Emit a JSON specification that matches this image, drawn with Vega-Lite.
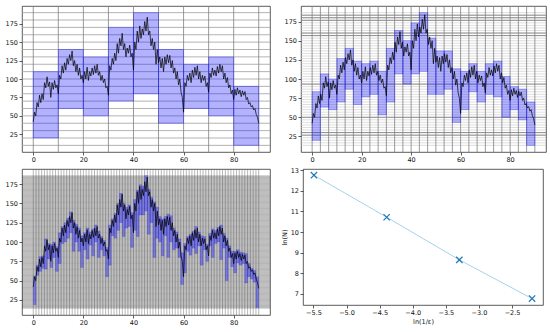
{
"$schema": "https://vega.github.io/schema/vega-lite/v6.json",
"padding": {"left": 4, "top": 5, "right": 0, "bottom": 0},
"background": "white",
"spacing": 2,
"config": {
  "view": {"stroke": "#333", "strokeWidth": 0.8},
  "axis": {"grid": false, "domain": false, "tickSize": 3, "tickColor": "#333", "tickWidth": 0.8, "labelFontSize": 6.5, "labelColor": "#111", "labelPadding": 1.5, "labelFont": "DejaVu Sans", "titleFont": "DejaVu Sans", "titleFontSize": 6.5, "titleFontWeight": "normal", "titleColor": "#111", "labelOverlap": false}
},
"datasets": {
  "curve": [{"x":0,"y":42},{"x":0.5,"y":55},{"x":1,"y":50},{"x":1.5,"y":68},{"x":2,"y":62},{"x":2.5,"y":78},{"x":3,"y":68},{"x":3.5,"y":80},{"x":4,"y":72},{"x":4.5,"y":95},{"x":5,"y":88},{"x":5.5,"y":103},{"x":6,"y":90},{"x":6.5,"y":96},{"x":7,"y":75},{"x":7.5,"y":95},{"x":8,"y":86},{"x":8.5,"y":98},{"x":9,"y":88},{"x":9.5,"y":92},{"x":10,"y":80},{"x":10.5,"y":105},{"x":11,"y":100},{"x":11.5,"y":118},{"x":12,"y":108},{"x":12.5,"y":122},{"x":13,"y":112},{"x":13.5,"y":128},{"x":14,"y":120},{"x":14.5,"y":133},{"x":15,"y":125},{"x":15.5,"y":138},{"x":16,"y":118},{"x":16.5,"y":125},{"x":17,"y":110},{"x":17.5,"y":120},{"x":18,"y":105},{"x":18.5,"y":115},{"x":19,"y":100},{"x":19.5,"y":105},{"x":20,"y":95},{"x":20.5,"y":110},{"x":21,"y":100},{"x":21.5,"y":116},{"x":22,"y":98},{"x":22.5,"y":110},{"x":23,"y":104},{"x":23.5,"y":115},{"x":24,"y":106},{"x":24.5,"y":118},{"x":25,"y":108},{"x":25.5,"y":120},{"x":26,"y":105},{"x":26.5,"y":110},{"x":27,"y":98},{"x":27.5,"y":105},{"x":28,"y":95},{"x":28.5,"y":100},{"x":29,"y":88},{"x":29.5,"y":90},{"x":30,"y":78},{"x":30.5,"y":118},{"x":31,"y":112},{"x":31.5,"y":128},{"x":32,"y":120},{"x":32.5,"y":135},{"x":33,"y":125},{"x":33.5,"y":148},{"x":34,"y":135},{"x":34.5,"y":155},{"x":35,"y":145},{"x":35.5,"y":162},{"x":36,"y":140},{"x":36.5,"y":148},{"x":37,"y":130},{"x":37.5,"y":142},{"x":38,"y":135},{"x":38.5,"y":146},{"x":39,"y":130},{"x":39.5,"y":135},{"x":40,"y":112},{"x":40.5,"y":150},{"x":41,"y":140},{"x":41.5,"y":165},{"x":42,"y":150},{"x":42.5,"y":172},{"x":43,"y":155},{"x":43.5,"y":168},{"x":44,"y":160},{"x":44.5,"y":178},{"x":45,"y":165},{"x":45.5,"y":184},{"x":46,"y":160},{"x":46.5,"y":165},{"x":47,"y":145},{"x":47.5,"y":155},{"x":48,"y":140},{"x":48.5,"y":150},{"x":49,"y":120},{"x":49.5,"y":140},{"x":50,"y":122},{"x":50.5,"y":130},{"x":51,"y":115},{"x":51.5,"y":128},{"x":52,"y":110},{"x":52.5,"y":130},{"x":53,"y":120},{"x":53.5,"y":133},{"x":54,"y":122},{"x":54.5,"y":132},{"x":55,"y":115},{"x":55.5,"y":125},{"x":56,"y":108},{"x":56.5,"y":115},{"x":57,"y":100},{"x":57.5,"y":110},{"x":58,"y":92},{"x":58.5,"y":100},{"x":59,"y":82},{"x":59.5,"y":75},{"x":60,"y":55},{"x":60.5,"y":95},{"x":61,"y":90},{"x":61.5,"y":105},{"x":62,"y":98},{"x":62.5,"y":108},{"x":63,"y":95},{"x":63.5,"y":112},{"x":64,"y":102},{"x":64.5,"y":116},{"x":65,"y":105},{"x":65.5,"y":118},{"x":66,"y":100},{"x":66.5,"y":110},{"x":67,"y":95},{"x":67.5,"y":105},{"x":68,"y":98},{"x":68.5,"y":104},{"x":69,"y":90},{"x":69.5,"y":95},{"x":70,"y":82},{"x":70.5,"y":108},{"x":71,"y":102},{"x":71.5,"y":115},{"x":72,"y":105},{"x":72.5,"y":112},{"x":73,"y":104},{"x":73.5,"y":117},{"x":74,"y":108},{"x":74.5,"y":120},{"x":75,"y":110},{"x":75.5,"y":118},{"x":76,"y":100},{"x":76.5,"y":108},{"x":77,"y":95},{"x":77.5,"y":102},{"x":78,"y":88},{"x":78.5,"y":92},{"x":79,"y":80},{"x":79.5,"y":85},{"x":80,"y":72},{"x":80.5,"y":86},{"x":81,"y":78},{"x":81.5,"y":88},{"x":82,"y":80},{"x":82.5,"y":85},{"x":83,"y":76},{"x":83.5,"y":84},{"x":84,"y":78},{"x":84.5,"y":83},{"x":85,"y":72},{"x":85.5,"y":75},{"x":86,"y":66},{"x":86.5,"y":68},{"x":87,"y":62},{"x":87.5,"y":64},{"x":88,"y":58},{"x":88.5,"y":60},{"x":89,"y":52},{"x":89.5,"y":48},{"x":90,"y":40}],
  "boxes1": [{"x1":0,"x2":10,"y1":20,"y2":110},{"x1":10,"x2":20,"y1":60,"y2":140},{"x1":20,"x2":30,"y1":50,"y2":130},{"x1":30,"x2":40,"y1":70,"y2":170},{"x1":40,"x2":50,"y1":80,"y2":190},{"x1":50,"x2":60,"y1":40,"y2":140},{"x1":60,"x2":70,"y1":60,"y2":120},{"x1":70,"x2":80,"y1":50,"y2":130},{"x1":80,"x2":90,"y1":10,"y2":90}],
  "boxes2": [{"x1":0,"x2":3.333,"y1":20,"y2":83.333},{"x1":3.333,"x2":6.667,"y1":63.333,"y2":106.667},{"x1":6.667,"x2":10,"y1":60,"y2":100},{"x1":10,"x2":13.333,"y1":70,"y2":126.667},{"x1":13.333,"x2":16.667,"y1":86.667,"y2":140},{"x1":16.667,"x2":20,"y1":66.667,"y2":123.333},{"x1":20,"x2":23.333,"y1":76.667,"y2":120},{"x1":23.333,"x2":26.667,"y1":80,"y2":123.333},{"x1":26.667,"x2":30,"y1":53.333,"y2":110},{"x1":30,"x2":33.333,"y1":70,"y2":140},{"x1":33.333,"x2":36.667,"y1":106.667,"y2":163.333},{"x1":36.667,"x2":40,"y1":93.333,"y2":150},{"x1":40,"x2":43.333,"y1":106.667,"y2":173.333},{"x1":43.333,"x2":46.667,"y1":110,"y2":186.667},{"x1":46.667,"x2":50,"y1":80,"y2":153.333},{"x1":50,"x2":53.333,"y1":80,"y2":136.667},{"x1":53.333,"x2":56.667,"y1":86.667,"y2":136.667},{"x1":56.667,"x2":60,"y1":43.333,"y2":113.333},{"x1":60,"x2":63.333,"y1":60,"y2":110},{"x1":63.333,"x2":66.667,"y1":83.333,"y2":120},{"x1":66.667,"x2":70,"y1":70,"y2":110},{"x1":70,"x2":73.333,"y1":80,"y2":120},{"x1":73.333,"x2":76.667,"y1":76.667,"y2":123.333},{"x1":76.667,"x2":80,"y1":50,"y2":103.333},{"x1":80,"x2":83.333,"y1":60,"y2":90},{"x1":83.333,"x2":86.667,"y1":46.667,"y2":86.667},{"x1":86.667,"x2":90,"y1":13.333,"y2":70}],
  "boxes3": [{"x1":0,"x2":1.111,"y1":19,"y2":56},{"x1":1.111,"x2":2.222,"y1":57,"y2":70},{"x1":2.222,"x2":3.333,"y1":62,"y2":81},{"x1":3.333,"x2":4.444,"y1":66,"y2":82},{"x1":4.444,"x2":5.556,"y1":65,"y2":104},{"x1":5.556,"x2":6.667,"y1":78,"y2":98},{"x1":6.667,"x2":7.778,"y1":67,"y2":97},{"x1":7.778,"x2":8.889,"y1":80,"y2":100},{"x1":8.889,"x2":10,"y1":62,"y2":94},{"x1":10,"x2":11.111,"y1":72,"y2":112},{"x1":11.111,"x2":12.222,"y1":98,"y2":120},{"x1":12.222,"x2":13.333,"y1":100,"y2":125},{"x1":13.333,"x2":14.444,"y1":105,"y2":131},{"x1":14.444,"x2":15.556,"y1":112,"y2":139},{"x1":15.556,"x2":16.667,"y1":88,"y2":128},{"x1":16.667,"x2":17.778,"y1":100,"y2":123},{"x1":17.778,"x2":18.889,"y1":88,"y2":118},{"x1":18.889,"x2":20,"y1":67,"y2":108},{"x1":20,"x2":21.111,"y1":90,"y2":112},{"x1":21.111,"x2":22.222,"y1":78,"y2":118},{"x1":22.222,"x2":23.333,"y1":96,"y2":113},{"x1":23.333,"x2":24.444,"y1":82,"y2":117},{"x1":24.444,"x2":25.556,"y1":100,"y2":122},{"x1":25.556,"x2":26.667,"y1":80,"y2":114},{"x1":26.667,"x2":27.778,"y1":90,"y2":107},{"x1":27.778,"x2":28.889,"y1":82,"y2":102},{"x1":28.889,"x2":30,"y1":55,"y2":93},{"x1":30,"x2":31.111,"y1":70,"y2":122},{"x1":31.111,"x2":32.222,"y1":108,"y2":130},{"x1":32.222,"x2":33.333,"y1":105,"y2":137},{"x1":33.333,"x2":34.444,"y1":115,"y2":150},{"x1":34.444,"x2":35.556,"y1":125,"y2":163},{"x1":35.556,"x2":36.667,"y1":107,"y2":150},{"x1":36.667,"x2":37.778,"y1":118,"y2":145},{"x1":37.778,"x2":38.889,"y1":120,"y2":148},{"x1":38.889,"x2":40,"y1":93,"y2":138},{"x1":40,"x2":41.111,"y1":115,"y2":155},{"x1":41.111,"x2":42.222,"y1":107,"y2":167},{"x1":42.222,"x2":43.333,"y1":135,"y2":174},{"x1":43.333,"x2":44.444,"y1":135,"y2":172},{"x1":44.444,"x2":45.556,"y1":140,"y2":186},{"x1":45.556,"x2":46.667,"y1":110,"y2":168},{"x1":46.667,"x2":47.778,"y1":125,"y2":158},{"x1":47.778,"x2":48.889,"y1":80,"y2":152},{"x1":48.889,"x2":50,"y1":105,"y2":145},{"x1":50,"x2":51.111,"y1":100,"y2":133},{"x1":51.111,"x2":52.222,"y1":82,"y2":130},{"x1":52.222,"x2":53.333,"y1":108,"y2":133},{"x1":53.333,"x2":54.444,"y1":80,"y2":136},{"x1":54.444,"x2":55.556,"y1":100,"y2":134},{"x1":55.556,"x2":56.667,"y1":90,"y2":118},{"x1":56.667,"x2":57.778,"y1":92,"y2":113},{"x1":57.778,"x2":58.889,"y1":80,"y2":104},{"x1":58.889,"x2":60,"y1":45,"y2":86},{"x1":60,"x2":61.111,"y1":60,"y2":98},{"x1":61.111,"x2":62.222,"y1":88,"y2":107},{"x1":62.222,"x2":63.333,"y1":83,"y2":110},{"x1":63.333,"x2":64.444,"y1":92,"y2":114},{"x1":64.444,"x2":65.556,"y1":85,"y2":120},{"x1":65.556,"x2":66.667,"y1":95,"y2":113},{"x1":66.667,"x2":67.778,"y1":70,"y2":108},{"x1":67.778,"x2":68.889,"y1":90,"y2":107},{"x1":68.889,"x2":70,"y1":75,"y2":97},{"x1":70,"x2":71.111,"y1":95,"y2":111},{"x1":71.111,"x2":72.222,"y1":80,"y2":117},{"x1":72.222,"x2":73.333,"y1":98,"y2":115},{"x1":73.333,"x2":74.444,"y1":100,"y2":119},{"x1":74.444,"x2":75.556,"y1":77,"y2":122},{"x1":75.556,"x2":76.667,"y1":92,"y2":111},{"x1":76.667,"x2":77.778,"y1":50,"y2":105},{"x1":77.778,"x2":78.889,"y1":80,"y2":95},{"x1":78.889,"x2":80,"y1":68,"y2":88},{"x1":80,"x2":81.111,"y1":60,"y2":88},{"x1":81.111,"x2":82.222,"y1":73,"y2":90},{"x1":82.222,"x2":83.333,"y1":70,"y2":87},{"x1":83.333,"x2":84.444,"y1":72,"y2":86},{"x1":84.444,"x2":85.556,"y1":47,"y2":85},{"x1":85.556,"x2":86.667,"y1":55,"y2":72},{"x1":86.667,"x2":87.778,"y1":52,"y2":66},{"x1":87.778,"x2":88.889,"y1":48,"y2":63},{"x1":88.889,"x2":90,"y1":15,"y2":55}],
  "g1v": [{"v":0},{"v":10},{"v":20},{"v":30},{"v":40},{"v":50},{"v":60},{"v":70},{"v":80},{"v":90}],
  "g1h": [{"v":10},{"v":20},{"v":30},{"v":40},{"v":50},{"v":60},{"v":70},{"v":80},{"v":90},{"v":100},{"v":110},{"v":120},{"v":130},{"v":140},{"v":150},{"v":160},{"v":170},{"v":180},{"v":190}],
  "g2v": [{"v":0},{"v":3.333},{"v":6.667},{"v":10},{"v":13.333},{"v":16.667},{"v":20},{"v":23.333},{"v":26.667},{"v":30},{"v":33.333},{"v":36.667},{"v":40},{"v":43.333},{"v":46.667},{"v":50},{"v":53.333},{"v":56.667},{"v":60},{"v":63.333},{"v":66.667},{"v":70},{"v":73.333},{"v":76.667},{"v":80},{"v":83.333},{"v":86.667},{"v":90}],
  "g2h": [{"v":13.333},{"v":16.667},{"v":20},{"v":23.333},{"v":26.667},{"v":30},{"v":33.333},{"v":36.667},{"v":40},{"v":43.333},{"v":46.667},{"v":50},{"v":53.333},{"v":56.667},{"v":60},{"v":63.333},{"v":66.667},{"v":70},{"v":73.333},{"v":76.667},{"v":80},{"v":83.333},{"v":86.667},{"v":90},{"v":93.333},{"v":96.667},{"v":100},{"v":103.333},{"v":106.667},{"v":110},{"v":113.333},{"v":116.667},{"v":120},{"v":123.333},{"v":126.667},{"v":130},{"v":133.333},{"v":136.667},{"v":140},{"v":143.333},{"v":146.667},{"v":150},{"v":153.333},{"v":156.667},{"v":160},{"v":163.333},{"v":166.667},{"v":170},{"v":173.333},{"v":176.667},{"v":180},{"v":183.333},{"v":186.667}],
  "g2d": [{"v":26.667},{"v":30},{"v":50},{"v":93.333},{"v":156.667},{"v":160},{"v":176.667},{"v":180},{"v":183.333}],
  "g3v": [{"v":0},{"v":1.111},{"v":2.222},{"v":3.333},{"v":4.444},{"v":5.556},{"v":6.667},{"v":7.778},{"v":8.889},{"v":10},{"v":11.111},{"v":12.222},{"v":13.333},{"v":14.444},{"v":15.556},{"v":16.667},{"v":17.778},{"v":18.889},{"v":20},{"v":21.111},{"v":22.222},{"v":23.333},{"v":24.444},{"v":25.556},{"v":26.667},{"v":27.778},{"v":28.889},{"v":30},{"v":31.111},{"v":32.222},{"v":33.333},{"v":34.444},{"v":35.556},{"v":36.667},{"v":37.778},{"v":38.889},{"v":40},{"v":41.111},{"v":42.222},{"v":43.333},{"v":44.444},{"v":45.556},{"v":46.667},{"v":47.778},{"v":48.889},{"v":50},{"v":51.111},{"v":52.222},{"v":53.333},{"v":54.444},{"v":55.556},{"v":56.667},{"v":57.778},{"v":58.889},{"v":60},{"v":61.111},{"v":62.222},{"v":63.333},{"v":64.444},{"v":65.556},{"v":66.667},{"v":67.778},{"v":68.889},{"v":70},{"v":71.111},{"v":72.222},{"v":73.333},{"v":74.444},{"v":75.556},{"v":76.667},{"v":77.778},{"v":78.889},{"v":80},{"v":81.111},{"v":82.222},{"v":83.333},{"v":84.444},{"v":85.556},{"v":86.667},{"v":87.778},{"v":88.889},{"v":90}],
  "g3h": [{"v":14.444},{"v":15.556},{"v":16.667},{"v":17.778},{"v":18.889},{"v":20},{"v":21.111},{"v":22.222},{"v":23.333},{"v":24.444},{"v":25.556},{"v":26.667},{"v":27.778},{"v":28.889},{"v":30},{"v":31.111},{"v":32.222},{"v":33.333},{"v":34.444},{"v":35.556},{"v":36.667},{"v":37.778},{"v":38.889},{"v":40},{"v":41.111},{"v":42.222},{"v":43.333},{"v":44.444},{"v":45.556},{"v":46.667},{"v":47.778},{"v":48.889},{"v":50},{"v":51.111},{"v":52.222},{"v":53.333},{"v":54.444},{"v":55.556},{"v":56.667},{"v":57.778},{"v":58.889},{"v":60},{"v":61.111},{"v":62.222},{"v":63.333},{"v":64.444},{"v":65.556},{"v":66.667},{"v":67.778},{"v":68.889},{"v":70},{"v":71.111},{"v":72.222},{"v":73.333},{"v":74.444},{"v":75.556},{"v":76.667},{"v":77.778},{"v":78.889},{"v":80},{"v":81.111},{"v":82.222},{"v":83.333},{"v":84.444},{"v":85.556},{"v":86.667},{"v":87.778},{"v":88.889},{"v":90},{"v":91.111},{"v":92.222},{"v":93.333},{"v":94.444},{"v":95.556},{"v":96.667},{"v":97.778},{"v":98.889},{"v":100},{"v":101.111},{"v":102.222},{"v":103.333},{"v":104.444},{"v":105.556},{"v":106.667},{"v":107.778},{"v":108.889},{"v":110},{"v":111.111},{"v":112.222},{"v":113.333},{"v":114.444},{"v":115.556},{"v":116.667},{"v":117.778},{"v":118.889},{"v":120},{"v":121.111},{"v":122.222},{"v":123.333},{"v":124.444},{"v":125.556},{"v":126.667},{"v":127.778},{"v":128.889},{"v":130},{"v":131.111},{"v":132.222},{"v":133.333},{"v":134.444},{"v":135.556},{"v":136.667},{"v":137.778},{"v":138.889},{"v":140},{"v":141.111},{"v":142.222},{"v":143.333},{"v":144.444},{"v":145.556},{"v":146.667},{"v":147.778},{"v":148.889},{"v":150},{"v":151.111},{"v":152.222},{"v":153.333},{"v":154.444},{"v":155.556},{"v":156.667},{"v":157.778},{"v":158.889},{"v":160},{"v":161.111},{"v":162.222},{"v":163.333},{"v":164.444},{"v":165.556},{"v":166.667},{"v":167.778},{"v":168.889},{"v":170},{"v":171.111},{"v":172.222},{"v":173.333},{"v":174.444},{"v":175.556},{"v":176.667},{"v":177.778},{"v":178.889},{"v":180},{"v":181.111},{"v":182.222},{"v":183.333},{"v":184.444},{"v":185.556}],
  "dim": [{"lx":-5.493,"ly":12.76},{"lx":-4.394,"ly":10.72},{"lx":-3.296,"ly":8.65},{"lx":-2.197,"ly":6.77}]
},
"vconcat": [
  {"hconcat": [
    {"width": 248, "height": 146,
     "layer": [
      {"data": {"name": "g1h"}, "mark": {"type": "rule", "color": "#a0a0a0", "strokeWidth": 0.8}, "encoding": {"y": {"field": "v", "type": "quantitative", "title": null, "scale": {"domain": [1, 199], "nice": false, "zero": false}, "axis": {"values": [25, 50, 75, 100, 125, 150, 175], "tickCount": 40, "format": "d", "title": null, "labelOverlap": false}}}},
      {"data": {"name": "g1v"}, "mark": {"type": "rule", "color": "#808080", "strokeWidth": 0.8}, "encoding": {"x": {"field": "v", "type": "quantitative", "title": null, "scale": {"domain": [-4.5, 94.5], "nice": false, "zero": false}, "axis": {"values": [0, 20, 40, 60, 80], "tickCount": 40, "format": "d", "title": null, "labelOverlap": false}}}},
      {"data": {"name": "boxes1"}, "mark": {"type": "rect", "fill": "#0000ff", "fillOpacity": 0.3, "stroke": "#0000ff", "strokeOpacity": 0.35, "strokeWidth": 0.8}, "encoding": {"x": {"field": "x1", "type": "quantitative", "title": null}, "x2": {"field": "x2"}, "y": {"field": "y1", "type": "quantitative", "title": null}, "y2": {"field": "y2"}}},
      {"data": {"name": "curve"}, "mark": {"type": "line", "color": "black", "strokeWidth": 0.7}, "encoding": {"x": {"field": "x", "type": "quantitative", "title": null}, "y": {"field": "y", "type": "quantitative", "title": null}}}
     ]},
    {"width": 245, "height": 146,
     "layer": [
      {"data": {"name": "g2h"}, "mark": {"type": "rule", "color": "#c8c8c8", "strokeWidth": 0.6}, "encoding": {"y": {"field": "v", "type": "quantitative", "title": null, "scale": {"domain": [4.67, 195.33], "nice": false, "zero": false}, "axis": {"values": [25, 50, 75, 100, 125, 150, 175], "tickCount": 40, "format": "d", "title": null, "labelOverlap": false}}}},
      {"data": {"name": "g2d"}, "mark": {"type": "rule", "color": "#777777", "strokeWidth": 0.8}, "encoding": {"y": {"field": "v", "type": "quantitative", "title": null}}},
      {"data": {"name": "g2v"}, "mark": {"type": "rule", "color": "#808080", "strokeWidth": 0.8}, "encoding": {"x": {"field": "v", "type": "quantitative", "title": null, "scale": {"domain": [-4.5, 94.5], "nice": false, "zero": false}, "axis": {"values": [0, 20, 40, 60, 80], "tickCount": 40, "format": "d", "title": null, "labelOverlap": false}}}},
      {"data": {"name": "boxes2"}, "mark": {"type": "rect", "fill": "#0000ff", "fillOpacity": 0.3, "stroke": "#0000ff", "strokeOpacity": 0.35, "strokeWidth": 0.8}, "encoding": {"x": {"field": "x1", "type": "quantitative", "title": null}, "x2": {"field": "x2"}, "y": {"field": "y1", "type": "quantitative", "title": null}, "y2": {"field": "y2"}}},
      {"data": {"name": "curve"}, "mark": {"type": "line", "color": "black", "strokeWidth": 0.7}, "encoding": {"x": {"field": "x", "type": "quantitative", "title": null}, "y": {"field": "y", "type": "quantitative", "title": null}}}
     ]}
  ], "spacing": 12},
  {"hconcat": [
    {"width": 248, "height": 146,
     "layer": [
      {"data": {"name": "g3h"}, "mark": {"type": "rule", "color": "#444444", "strokeWidth": 0.6, "opacity": 0.55}, "encoding": {"y": {"field": "v", "type": "quantitative", "title": null, "scale": {"domain": [5.6, 194.4], "nice": false, "zero": false}, "axis": {"values": [25, 50, 75, 100, 125, 150, 175], "tickCount": 40, "format": "d", "title": null, "labelOverlap": false}}}},
      {"data": {"name": "g3v"}, "mark": {"type": "rule", "color": "#555555", "strokeWidth": 0.6, "opacity": 0.7}, "encoding": {"x": {"field": "v", "type": "quantitative", "title": null, "scale": {"domain": [-4.5, 94.5], "nice": false, "zero": false}, "axis": {"values": [0, 20, 40, 60, 80], "tickCount": 40, "format": "d", "title": null, "labelOverlap": false}}}},
      {"data": {"name": "boxes3"}, "mark": {"type": "rect", "fill": "#0000ff", "fillOpacity": 0.35, "stroke": "#0000ff", "strokeOpacity": 0.3, "strokeWidth": 0.5}, "encoding": {"x": {"field": "x1", "type": "quantitative", "title": null}, "x2": {"field": "x2"}, "y": {"field": "y1", "type": "quantitative", "title": null}, "y2": {"field": "y2"}}},
      {"data": {"name": "curve"}, "mark": {"type": "line", "color": "black", "strokeWidth": 0.7}, "encoding": {"x": {"field": "x", "type": "quantitative", "title": null}, "y": {"field": "y", "type": "quantitative", "title": null}}}
     ]},
    {"width": 240, "height": 136,
     "data": {"name": "dim"},
     "layer": [
      {"mark": {"type": "line", "color": "#8cc8e6", "strokeWidth": 0.8}, "encoding": {"x": {"field": "lx", "type": "quantitative", "scale": {"domain": [-5.658, -2.032], "nice": false, "zero": false}, "axis": {"values": [-5.5, -5, -4.5, -4, -3.5, -3, -2.5], "tickCount": 40, "format": ".1f", "title": "ln(1/ε)", "titlePadding": 2, "labelOverlap": false}}, "y": {"field": "ly", "type": "quantitative", "scale": {"domain": [6.46, 13.06], "nice": false, "zero": false}, "axis": {"values": [7, 8, 9, 10, 11, 12, 13], "tickCount": 40, "format": "d", "title": "ln(N)", "titlePadding": 3, "labelOverlap": false}}}},
      {"mark": {"type": "point", "shape": "M-1,-1L1,1M-1,1L1,-1", "filled": false, "size": 40, "stroke": "#1f77b4", "strokeWidth": 1.2, "opacity": 1}, "encoding": {"x": {"field": "lx", "type": "quantitative"}, "y": {"field": "ly", "type": "quantitative"}}}
     ]}
  ], "spacing": 9}
]
}
